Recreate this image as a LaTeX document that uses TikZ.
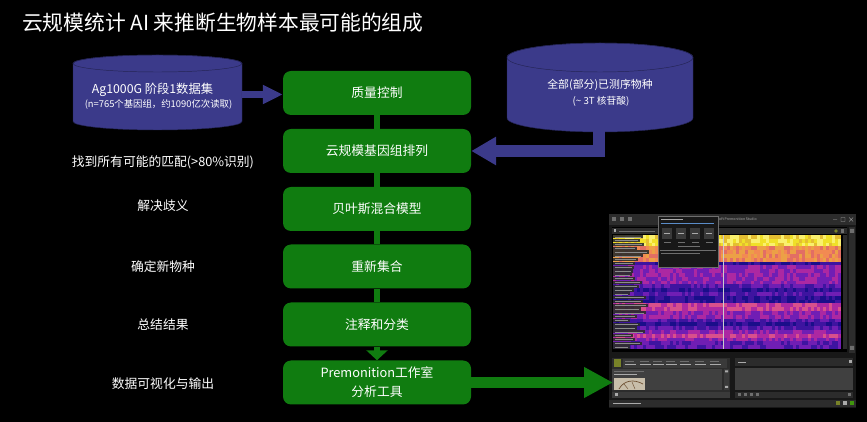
\documentclass[tikz,border=0pt]{standalone}
\usepackage{fontspec}
\setmainfont{Noto Sans CJK SC}
\usetikzlibrary{arrows.meta}

\definecolor{gruen}{RGB}{16,124,16}
\definecolor{dbblau}{RGB}{59,58,138}
\definecolor{dbrand}{RGB}{36,36,84}
\definecolor{fenster}{RGB}{24,24,24}
\definecolor{leiste}{RGB}{44,44,44}
\definecolor{panel}{RGB}{64,64,64}
\definecolor{kachel}{RGB}{58,58,58}
\definecolor{grau}{RGB}{110,110,110}
\definecolor{hellgrau}{RGB}{170,170,170}
\definecolor{schrift}{RGB}{140,140,140}
\definecolor{linkblau}{RGB}{90,140,200}
\definecolor{oliv}{RGB}{120,130,40}
\definecolor{bildfarbe}{RGB}{200,190,170}
\definecolor{braun}{RGB}{110,80,50}
\definecolor{gelb1}{RGB}{240,224,40}
\definecolor{gelb2}{RGB}{250,240,110}
\definecolor{gelb3}{RGB}{228,190,50}
\definecolor{orange1}{RGB}{236,160,70}
\definecolor{orange2}{RGB}{242,138,82}
\definecolor{orange3}{RGB}{226,110,100}
\definecolor{lila1}{RGB}{26,14,138}
\definecolor{lila2}{RGB}{62,20,160}
\definecolor{lila3}{RGB}{112,30,180}
\definecolor{lila4}{RGB}{172,40,162}
\definecolor{lila5}{RGB}{216,80,140}

\begin{document}
\begin{tikzpicture}[x=0.3mm,y=-0.3mm,
    schritt/.style={rectangle, rounded corners=2.4mm, fill=gruen, text=white,
      minimum width=56.4mm, minimum height=13.2mm, inner sep=0pt, align=center,
      font=\fontsize{10.9}{16.2}\selectfont},
    beschr/.style={text=white, inner sep=0pt, font=\fontsize{10.9}{13}\selectfont},
    dbtext/.style={text=white, inner sep=0pt},
    zylinder/.style={fill=dbblau, draw=dbrand, line width=0.4pt},
    verbinder/.style={gruen, line width=1.8mm},
    blaupfeil/.style={dbblau, line join=miter}]

    % Hintergrund
    \useasboundingbox (0,0) rectangle (867,422);
    \fill[black] (0,0) rectangle (867,422);

    % Titel
    \node[anchor=west, text=white, inner sep=0pt, font=\fontsize{17.7}{20}\selectfont] (titel) at (22,22.5) {云规模统计 AI 来推断生物样本最可能的组成};

    % Datenbank links
    \filldraw[zylinder] (73,63.5) -- (73,121.5) arc[start angle=180, end angle=0, x radius=84.5, y radius=8.5]
        -- (242,63.5) arc[start angle=0, end angle=-180, x radius=84.5, y radius=8.5] -- cycle;
    \draw[dbrand, line width=0.4pt] (157.5,63.5) ellipse[x radius=84.5, y radius=8.5];
    \node[dbtext, font=\fontsize{10.5}{12}\selectfont] (ag) at (152.5,90) {Ag1000G 阶段1数据集};
    \node[dbtext, font=\fontsize{8}{10}\selectfont] (agn) at (158.5,104) {(n=765个基因组，约1090亿次读取)};
    \coordinate (agrand) at (242,94.5);

    % Datenbank rechts
    \filldraw[zylinder] (507,57.5) -- (507,118) arc[start angle=180, end angle=0, x radius=93, y radius=14]
        -- (693,57.5) arc[start angle=0, end angle=-180, x radius=93, y radius=14.5] -- cycle;
    \draw[dbrand, line width=0.4pt] (600,57.5) ellipse[x radius=93, y radius=14.5];
    \node[dbtext, font=\fontsize{9.3}{11}\selectfont] (arten) at (600,85) {全部(部分)已测序物种};
    \node[dbtext, font=\fontsize{8.3}{10}\selectfont] (artenn) at (601,101) {(\textasciitilde{} 3T 核苷酸)};
    \coordinate (dbunten) at (599,128);

    % Ablauf
    \node[schritt] (qk) at (377,93) {质量控制};
    \node[schritt] (kg) at (377,151) {云规模基因组排列};
    \node[schritt] (bm) at (377,209) {贝叶斯混合模型};
    \node[schritt] (ns) at (377,266.5) {重新集合};
    \node[schritt] (ak) at (377,324.5) {注释和分类};
    \node[schritt] (pt) at (377,382.5) {Premonition工作室\\分析工具};

    \draw[verbinder] (qk.south) -- (kg.north);
    \draw[verbinder] (kg.south) -- (bm.north);
    \draw[verbinder] (bm.south) -- (ns.north);
    \draw[verbinder] (ns.south) -- (ak.north);
    \draw[verbinder, -{Triangle[length=3mm, width=6.3mm]}] (ak.south) -- (pt.north);

    % Pfeile von den Datenbanken
    \draw[blaupfeil, line width=2.1mm, -{Triangle[length=6mm, width=5.4mm]}] (agrand) -- (agrand -| qk.west);
    \draw[blaupfeil, line width=3.6mm, -{Triangle[length=7.5mm, width=8.1mm]}] (dbunten) |- (kg.east);

    % Beschriftung links
    \node[beschr] (treffer) at (163,162) {找到所有可能的匹配(>80\%识别)};
    \node[beschr] (mehrdeutig) at (163,206) {解决歧义};
    \node[beschr] (neuart) at (163,267) {确定新物种};
    \node[beschr] (ergebnis) at (163,325) {总结结果};
    \node[beschr] (ausgabe) at (163,384) {数据可视化与输出};

    % Bildschirmfoto Premonition Studio
    \fill[fenster] (609,214) rectangle (856,408);
    \fill[leiste] (609,214) rectangle (856,225);
    \foreach \x in {612,620,628} \fill[grau] (\x,217.5) rectangle ++(4,4);
    \node[anchor=west, text=hellgrau, inner sep=0pt, font=\fontsize{3}{4}\selectfont] (fenstertitel) at (719,219.5) {oft Premonition Studio};
    \draw[hellgrau, line width=0.3pt] (833,219.5) -- (837,219.5) (841,217.5) rectangle (845,221.5) (849,217.5) -- (853,221.5) (849,221.5) -- (853,217.5);

    % Heatmap
    \fill[black] (612,227) rectangle (847,352);
    \fill[leiste] (612,228) rectangle (847,234);
    \fill[hellgrau] (614,229.5) rectangle (616,232.5);
    \fill[grau] (619,230.6) rectangle (655,231.6);
    \fill[oliv] (836,231) circle[radius=1.8];
    \fill[grau] (841,229.3) rectangle (844,233);
    \pgfmathsetseed{42}
    \foreach \zeile in {0,...,29}{
        \ifnum\zeile<3 \def\hmfarbe{gelb}\def\hmmin{1}\def\hmmax{3}%
        \else\ifnum\zeile<7 \def\hmfarbe{orange}\def\hmmin{1}\def\hmmax{3}%
        \else\def\hmfarbe{lila}\pgfmathrandominteger{\hmmin}{1}{4}\pgfmathtruncatemacro\hmmax{\hmmin+1}%
        \fi\fi
        \foreach \spalte in {0,...,75}{
            \pgfmathrandominteger{\hmk}{\hmmin}{\hmmax}
            \fill[\hmfarbe\hmk] ({613+3*\spalte},{235+3.8*\zeile}) rectangle ++(3.05,3.85);
        }
    }
    \draw[hellgrau!60, line width=0.3pt] (723,235) -- (723,349);
    \foreach \w [count=\i from 0] in {30,27,31,24,36,30,25,22,21,20,19,22,29,26,21,17,33,30,35,28,33,24,17,27,24,32,20,22,29,17}{
        \fill[leiste, opacity=0.9] (613,{235.3+3.8*\i}) rectangle ++(\w,3.2);
        \fill[schrift] (614.5,{236.6+3.8*\i}) rectangle ++({\w-4},0.7);
    }
    \fill[leiste] (843,235) rectangle (847,349);
    \fill[leiste] (849,227) rectangle (855,353);
    \fill[grau] (850,229) rectangle (854,233) (850,346) rectangle (854,350);

    % Infofenster
    \filldraw[fill=fenster, draw=grau, line width=0.3pt] (658,216) rectangle (718,267);
    \fill[hellgrau] (661,219) rectangle (683,220);
    \fill[linkblau] (661,223.5) rectangle (714,224.5);
    \foreach \x in {662,676,690,704}{
        \fill[kachel] (\x,228) rectangle ++(10,11);
        \fill[hellgrau] (\x+2,233) rectangle ++(6,0.8);
        \fill[grau] (\x+1.5,242) rectangle ++(7,0.6);
    }
    \fill[grau] (678,246) rectangle (700,246.8);
    \draw[grau, line width=0.3pt] (660,250) -- (716,250);
    \fill[grau] (661,253) rectangle (700,253.8);

    % untere Felder
    \fill[leiste] (612,358) rectangle (730,398);
    \fill[oliv] (614,359) rectangle (621,367);
    \fill[kachel] (623,359) rectangle (727,368);
    \foreach \x in {625,640,653,666,680,695,710}{
        \fill[grau] (\x,361) rectangle ++(9,0.6);
        \fill[hellgrau] (\x,364) rectangle ++(11,1);
    }
    \fill[panel] (612,369) rectangle (722,390);
    \fill[grau] (614,371.5) rectangle (644,372.1);
    \fill[hellgrau] (614,374.2) rectangle (637,375.4);
    \fill[bildfarbe] (614,378) rectangle (645,390);
    \draw[braun, line width=0.6pt] (619,389) .. controls (624,380) and (634,379) .. (643,384);
    \draw[braun, line width=0.4pt] (624,384) -- (628,389) (632,382) -- (635,389);
    \fill[kachel] (724,369) rectangle (729,390);
    \fill[hellgrau] (725,370.5) rectangle (728,372.5) (725,386) rectangle (728,388);
    \fill[kachel] (612,392) rectangle (730,398);
    \fill[hellgrau] (615,393.5) rectangle (618,396.5);

    \fill[leiste] (735,358) rectangle (853,366);
    \fill[hellgrau] (738,361.6) rectangle (746,362.4);
    \fill[hellgrau] (849,360.5) rectangle (851.5,363);
    \fill[panel] (735,368) rectangle (853,390);
    \fill[leiste] (735,392) rectangle (853,398);
    \foreach \x in {738,744,750,756} \fill[grau] (\x,393.5) rectangle ++(3,3);
    \fill[grau] (848,393.5) rectangle (851,396.5);

    \fill[leiste] (609,400) rectangle (856,407);
    \fill[hellgrau] (613,403.2) rectangle (641,404);
    \fill[oliv] (836,401.5) rectangle (840,405.5);
    \fill[hellgrau] (843,401.5) rectangle (847,405.5);
    \fill[gruen!80!yellow] (850,401.5) rectangle (854,405.5);

    % Pfeil zum Werkzeug
    \coordinate (bild) at (613,382.5);
    \draw[gruen, line width=3.3mm, -{Triangle[length=8.7mm, width=8.7mm]}] (pt.east) -- (bild);

\end{tikzpicture}
\end{document}
